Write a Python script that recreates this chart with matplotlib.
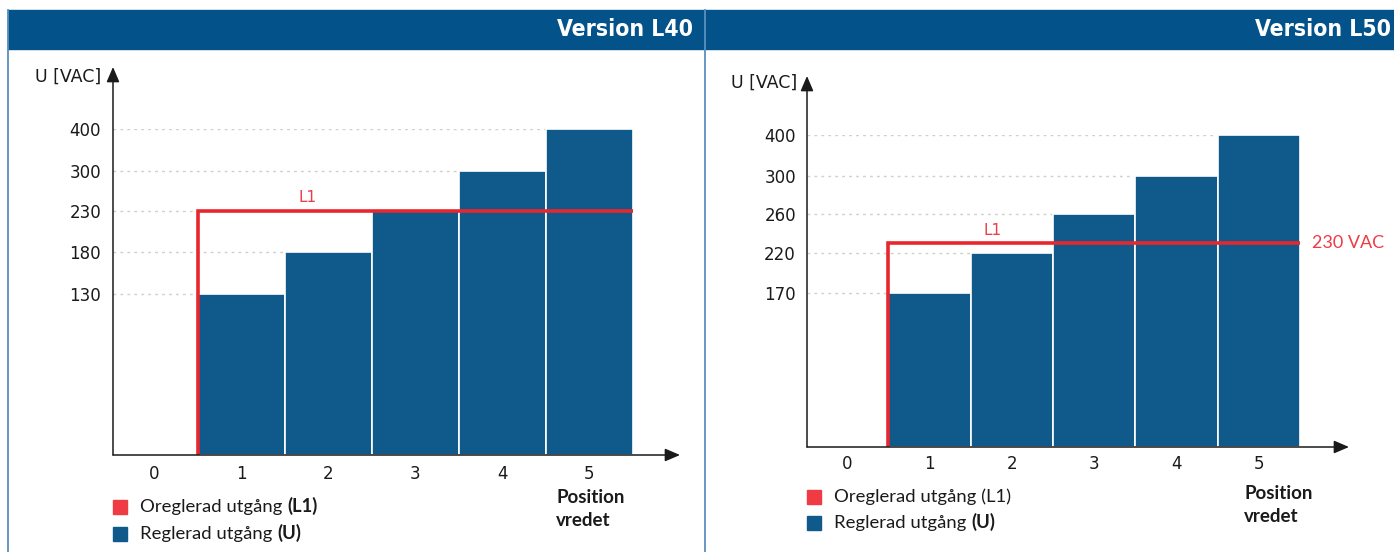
import numpy as np
import matplotlib
matplotlib.use('Agg')
import matplotlib.pyplot as plt
from matplotlib.patches import Rectangle
from matplotlib.lines import Line2D

# ---- data ----------------------------------------------------------------
POSITIONS = [0, 1, 2, 3, 4, 5]
BAR_POS   = [1, 2, 3, 4, 5]

L40_U     = [130, 180, 230, 300, 400]
L40_TICKS = [130, 180, 230, 300, 400]
L40_L1    = 230

L50_U     = [170, 220, 260, 300, 400]
L50_TICKS = [170, 220, 260, 300, 400]
L50_L1    = 230

# the voltage axis is not linear: pixel height of each tick level above the baseline
L40_LEVELS = [161, 203, 244, 284, 326]
L50_LEVELS = [154, 194, 233, 271, 312]

# ---- style ---------------------------------------------------------------
W, H   = 1394, 552
HEAD   = '#03528A'
BORDER = '#5b8fbf'
BLUE   = '#0F5A8A'
RED    = '#E8262D'
RED_T  = '#EE3B44'
GRID   = '#cfcfcf'
TXT    = '#1a1a1a'
LEG_FONT  = ['Lato', 'DejaVu Sans']

plt.rcParams.update({"font.family": "DejaVu Sans", "text.color": TXT})

fig = plt.figure(figsize=(W/100, H/100), dpi=100)


def fx(x): return x / W
def fy(y): return 1 - y / H


def draw_panel(x_axis, x_end, base, tip_y, zero_x, unit,
               values, ticks, levels, l1, tick_pad, xtick_pad):
    top = base - levels[-1]
    ax = fig.add_axes([fx(x_axis), fy(base), (x_end - x_axis)/W, (base - top)/H])

    tv = np.array([0] + list(ticks), float)
    lv = np.array([0] + list(levels), float)
    fwd = lambda v: np.interp(v, tv, lv)
    inv = lambda p: np.interp(p, lv, tv)
    ax.set_yscale('function', functions=(fwd, inv))

    x0 = (x_axis - zero_x) / unit
    x1 = (x_end - zero_x) / unit
    ax.set_xlim(x0, x1)
    ax.set_ylim(0, ticks[-1])

    for t in ticks:
        ax.plot([x0, BAR_POS[-1] + 0.5], [t, t], color=GRID, lw=1,
                ls=(0, (2, 3)), zorder=1)

    ax.bar(BAR_POS, values, width=1, color=BLUE, edgecolor='white',
           lw=1.2, zorder=2)
    ax.plot([0.5, 0.5, BAR_POS[-1] + 0.5], [0, l1, l1], color=RED, lw=2.6,
            zorder=3, solid_joinstyle='miter', solid_capstyle='butt')

    for s in ax.spines.values():
        s.set_visible(False)
    ax.set_yticks(ticks)
    ax.set_yticklabels([str(t) for t in ticks])
    ax.set_xticks(POSITIONS)
    ax.set_xticklabels([str(p) for p in POSITIONS])
    ax.tick_params(axis='y', length=0, pad=tick_pad, labelsize=12, labelcolor=TXT)
    ax.tick_params(axis='x', length=0, pad=xtick_pad, labelsize=12, labelcolor=TXT)
    ax.patch.set_alpha(0)

    arrow = dict(arrowstyle='-|>,head_length=0.7,head_width=0.3',
                 color=TXT, lw=1.1, mutation_scale=13, shrinkA=0, shrinkB=0)
    ax.annotate('', xy=(0, (base - tip_y) / (base - top)), xytext=(0, 0),
                xycoords='axes fraction', arrowprops=arrow, annotation_clip=False)
    ax.annotate('', xy=(1, 0), xytext=(0, 0),
                xycoords='axes fraction', arrowprops=arrow, annotation_clip=False)

    ax.annotate('L1', (1.77, l1), xytext=(0, 4), textcoords='offset points',
                ha='center', va='bottom', color=RED_T, fontsize=11)
    return ax


ax1 = draw_panel(113, 680, 455, 67, 154, 87.0,
                 L40_U, L40_TICKS, L40_LEVELS, L40_L1, 8.5, 7)
ax2 = draw_panel(807, 1349, 447, 76, 847, 82.4,
                 L50_U, L50_TICKS, L50_LEVELS, L50_L1, 8, 6)

ax2.annotate('230 VAC', (BAR_POS[-1] + 0.5, L50_L1), xytext=(8.5, 0),
             textcoords='offset points', ha='left', va='center',
             color=RED_T, fontsize=13, family=LEG_FONT, annotation_clip=False)

# ---- header band and panel borders ---------------------------------------
fig.add_artist(Rectangle((fx(8), fy(49)), (W - 8)/W, 39/H, color=HEAD,
                         transform=fig.transFigure, zorder=0))
for xb in (8, 705):
    fig.add_artist(Line2D([fx(xb), fx(xb)], [fy(10), 0], color=BORDER, lw=1.3,
                          transform=fig.transFigure))

fig.text(fx(693), fy(30), 'Version L40', ha='right', va='center', color='white',
         fontsize=16.5, fontweight='bold', fontstretch='condensed')
fig.text(fx(1391), fy(30), 'Version L50', ha='right', va='center', color='white',
         fontsize=16.5, fontweight='bold', fontstretch='condensed')

fig.text(fx(101), fy(77), 'U [VAC]', ha='right', va='center', fontsize=12.5)
fig.text(fx(797), fy(83), 'U [VAC]', ha='right', va='center', fontsize=12.5)

fig.text(fx(556), fy(509), 'Position\nvredet', ha='left', va='center',
         fontsize=13.5, fontweight='bold', family=LEG_FONT, linespacing=1.4)
fig.text(fx(1244), fy(505), 'Position\nvredet', ha='left', va='center',
         fontsize=13.5, fontweight='bold', family=LEG_FONT, linespacing=1.4)


# ---- legends -------------------------------------------------------------
def legend_item(ax, x, y, color, plain, bold=None):
    fig.add_artist(Rectangle((fx(x), fy(y + 7)), 14/W, 14/H, color=color,
                             transform=fig.transFigure))
    t = fig.text(fx(x + 27), fy(y), plain, ha='left', va='center',
                 fontsize=13.3, family=LEG_FONT)
    if bold:
        ax.annotate(bold, xy=(1, 0), xycoords=t, ha='left', va='bottom',
                    fontsize=13.3, fontweight='bold', family=LEG_FONT,
                    annotation_clip=False)


legend_item(ax1, 113, 507, RED_T, 'Oreglerad utgång ', '(L1)')
legend_item(ax1, 113, 534, BLUE, 'Reglerad utgång ', '(U)')
legend_item(ax2, 807, 497, RED_T, 'Oreglerad utgång (L1)')
legend_item(ax2, 807, 523, BLUE, 'Reglerad utgång ', '(U)')

fig.savefig('out.png', dpi=100)
